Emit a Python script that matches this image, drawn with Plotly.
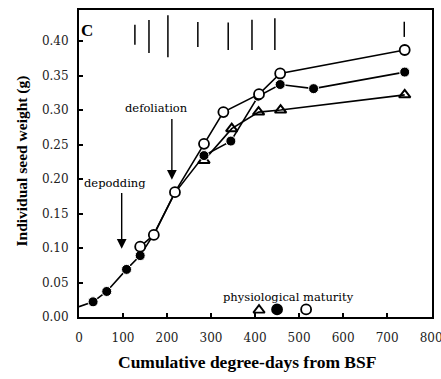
import plotly.graph_objects as go

# Seed growth under three treatments (degree-days vs g per seed)
dd_filled = [0, 32, 63, 108, 139, 170, 218, 284, 345, 407, 457, 533, 740]
wt_filled = [0.015, 0.022, 0.037, 0.069, 0.089, 0.120, 0.180, 0.234, 0.255, 0.320, 0.337, 0.331, 0.355]

dd_open = [139, 170, 218, 284, 328, 409, 457, 740]
wt_open = [0.102, 0.119, 0.181, 0.251, 0.297, 0.323, 0.353, 0.387]

dd_tri = [284, 347, 408, 458, 740]
wt_tri = [0.227, 0.273, 0.297, 0.300, 0.322]

# Physiological maturity dates
pm_dd = [409, 450, 516]
pm_wt = [0.010, 0.011, 0.011]

# Vertical bars along the top of the panel (centre and half length)
bar_dd = [127, 159, 202, 270, 339, 393, 445, 739]
bar_mid = [0.409, 0.4065, 0.407, 0.4095, 0.407, 0.409, 0.410, 0.417]
bar_half = [0.0145, 0.024, 0.0305, 0.018, 0.020, 0.022, 0.023, 0.011]

x_ticks = [0, 100, 200, 300, 400, 500, 600, 700, 800]
y_ticks = [0.00, 0.05, 0.10, 0.15, 0.20, 0.25, 0.30, 0.35, 0.40]

BLACK = "black"
SERIF = "Liberation Serif"
WIDE_SERIF = "DejaVu Serif"
MS = 10

fig = go.Figure()

fig.add_trace(go.Scatter(
    x=bar_dd, y=bar_mid, mode="markers",
    marker=dict(size=1, color="rgba(0,0,0,0)"),
    error_y=dict(type="data", array=bar_half, symmetric=True, width=0,
                 thickness=1.5, color=BLACK),
    showlegend=False, hoverinfo="skip"))

fig.add_trace(go.Scatter(
    x=dd_tri, y=wt_tri, mode="lines+markers",
    line=dict(color=BLACK, width=1.6),
    marker=dict(symbol="triangle-up-open", size=MS, color=BLACK,
                line=dict(width=2)),
    showlegend=False))

fig.add_trace(go.Scatter(
    x=dd_filled, y=wt_filled, mode="lines+markers",
    line=dict(color=BLACK, width=1.6),
    marker=dict(symbol="circle", size=[0] + [MS] * (len(dd_filled) - 1),
                color=BLACK, opacity=1),
    showlegend=False))

fig.add_trace(go.Scatter(
    x=dd_open, y=wt_open, mode="lines+markers",
    line=dict(color=BLACK, width=1.6),
    marker=dict(symbol="circle", size=MS, color="white",
                line=dict(color=BLACK, width=1.8)),
    showlegend=False))

# Maturity markers
fig.add_trace(go.Scatter(
    x=pm_dd, y=pm_wt, mode="markers",
    marker=dict(symbol=["triangle-up-open", "circle", "circle"],
                size=MS, color=[BLACK, BLACK, "white"],
                line=dict(color=BLACK, width=1.8)),
    showlegend=False))

tick_font = dict(family=WIDE_SERIF, size=12, color="#222")

fig.update_xaxes(
    range=[0, 802], tickvals=x_ticks, ticktext=[str(v) for v in x_ticks],
    ticks="inside", ticklen=4, tickwidth=1.5, tickcolor=BLACK,
    ticklabelstandoff=9, automargin=False, ticklabeloverflow="allow",
    showline=True, linecolor=BLACK, linewidth=2, mirror=True,
    showgrid=False, zeroline=False, tickfont=tick_font)

fig.update_yaxes(
    range=[0, 0.445], tickvals=y_ticks, ticktext=[f"{v:.2f}" for v in y_ticks],
    ticks="inside", ticklen=4, tickwidth=1.5, tickcolor=BLACK,
    ticklabelstandoff=6, automargin=False,
    showline=True, linecolor=BLACK, linewidth=2, mirror=True,
    showgrid=False, zeroline=False, tickfont=tick_font)

# Axis titles
fig.add_annotation(x=0.476, y=-0.147, xref="paper", yref="paper",
                   text="<b>Cumulative degree-days from BSF</b>",
                   showarrow=False, xanchor="center", yanchor="middle",
                   font=dict(family=SERIF, size=17.5, color=BLACK))
fig.add_annotation(x=-0.161, y=0.507, xref="paper", yref="paper",
                   text="<b>Individual seed weight (g)</b>", textangle=-90,
                   showarrow=False, xanchor="center", yanchor="middle",
                   font=dict(family=SERIF, size=15.5, color=BLACK))

ann_font = dict(family=WIDE_SERIF, size=11.5, color=BLACK)
fig.add_annotation(x=0.012, y=0.415, xref="x", yref="y", text="<b>C</b>",
                   showarrow=False, xanchor="left",
                   font=dict(family=SERIF, size=17, color=BLACK))
fig.add_annotation(x=175, y=0.303, text="defoliation", showarrow=False,
                   font=ann_font)
fig.add_annotation(x=211, y=0.199, ax=211, ay=0.289, axref="x", ayref="y",
                   text="", showarrow=True, arrowhead=2, arrowsize=1.4,
                   arrowwidth=1.4, arrowcolor=BLACK)
fig.add_annotation(x=81, y=0.194, text="depodding", showarrow=False,
                   font=ann_font)
fig.add_annotation(x=97, y=0.099, ax=97, ay=0.182, axref="x", ayref="y",
                   text="", showarrow=True, arrowhead=2, arrowsize=1.4,
                   arrowwidth=1.4, arrowcolor=BLACK)
fig.add_annotation(x=476, y=0.029, text="physiological maturity",
                   showarrow=False, font=ann_font)

fig.update_layout(
    width=441, height=379,
    margin=dict(l=79, r=9, t=10, b=62),
    plot_bgcolor="white", paper_bgcolor="white",
)

fig.write_html("out.html")
